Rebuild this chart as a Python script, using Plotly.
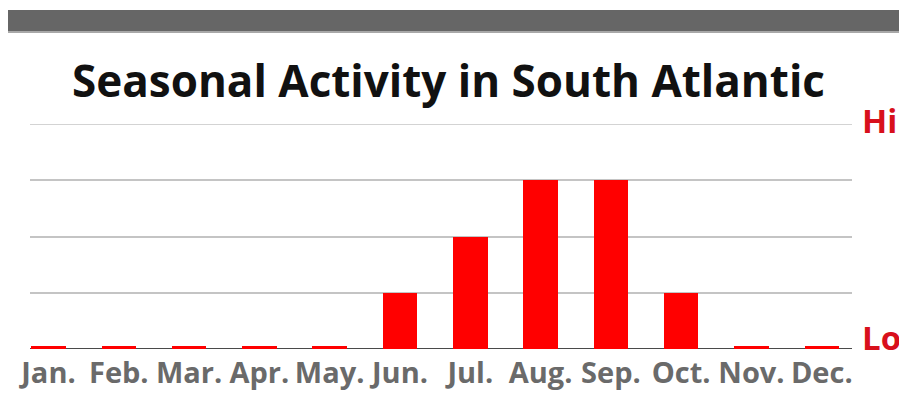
import plotly.graph_objects as go

# Monthly activity level on a 0 (Lo) to 4 (Hi) scale
months = ["Jan.", "Feb.", "Mar.", "Apr.", "May.", "Jun.", "Jul.", "Aug.", "Sep.", "Oct.", "Nov.", "Dec."]
activity = [0.05, 0.05, 0.05, 0.05, 0.05, 1, 2, 3, 3, 1, 0.05, 0.05]
level_ticks = [0, 1, 2, 3, 4]

W, H = 899, 393
L, R, T, B = 30, 47, 124, 44
pw, ph = W - L - R, H - T - B


def px(x):
    return (x - L) / pw


def py(y):
    return (H - B - y) / ph


fig = go.Figure(
    go.Bar(
        x=list(range(len(months))),
        y=activity,
        width=0.49,
        marker=dict(color="#ff0000", line=dict(width=0)),
        hoverinfo="skip",
    )
)

fig.update_layout(
    width=W,
    height=H,
    margin=dict(l=L, r=R, t=T, b=B, autoexpand=False),
    paper_bgcolor="white",
    plot_bgcolor="white",
    showlegend=False,
    xaxis=dict(
        range=[-0.263, 11.43],
        tickmode="array",
        tickvals=list(range(len(months))),
        ticktext=months,
        tickfont=dict(family="Open Sans", size=29, color="#6a6a6a", weight="bold"),
        showgrid=False,
        zeroline=False,
        showline=False,
        ticks="",
        ticklabelstandoff=4,
        automargin=False,
    ),
    yaxis=dict(
        range=[0, 4],
        tickvals=level_ticks,
        showticklabels=False,
        showgrid=True,
        gridcolor="#c4c4c4",
        gridwidth=1.5,
        zeroline=False,
        showline=False,
        ticks="",
        automargin=False,
    ),
    bargap=0,
)

# top gridline (sits on the plot edge)
fig.add_shape(type="line", xref="paper", yref="y", x0=0, x1=1, y0=4, y1=4,
              line=dict(color="#c4c4c4", width=1.5), layer="below")

# baseline under the bars
fig.add_shape(type="line", xref="paper", yref="y", x0=0, x1=1, y0=0, y1=0,
              line=dict(color="#4a4a4a", width=2), layer="below")

# grey banner across the top
fig.add_shape(type="rect", xref="paper", yref="paper",
              x0=px(8), x1=px(905), y0=py(31), y1=py(10),
              fillcolor="#666666", line=dict(width=0))
fig.add_shape(type="rect", xref="paper", yref="paper",
              x0=px(8), x1=px(905), y0=py(33), y1=py(31),
              fillcolor="#a8a8a8", line=dict(width=0))

fig.add_annotation(
    text="Seasonal Activity in South Atlantic",
    xref="paper", yref="paper", x=px(448), y=py(80),
    xanchor="center", yanchor="middle", showarrow=False,
    font=dict(family="Open Sans", size=44, color="#111111", weight="bold"),
)

for label, ypos in (("Hi", 121), ("Lo", 337)):
    fig.add_annotation(
        text=label, xref="paper", yref="paper", x=px(860), y=py(ypos),
        xanchor="left", yanchor="middle", showarrow=False,
        font=dict(family="Open Sans", size=33, color="#d8101c", weight="bold"),
    )

fig.write_html("out.html")
